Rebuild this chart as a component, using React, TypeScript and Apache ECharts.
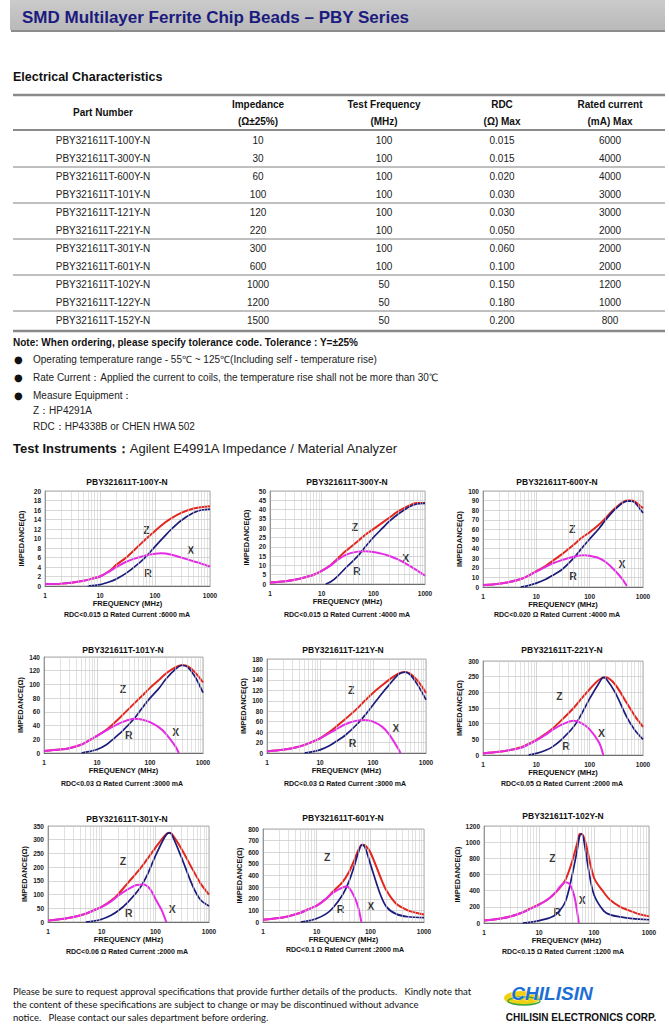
import React, { useEffect, useRef } from 'react';
import * as echarts from 'echarts';

const FONT = '"Liberation Sans", Arial, sans-serif';

// ---------- Table data ----------
const PART_NUMBERS = ['PBY321611T-100Y-N', 'PBY321611T-300Y-N', 'PBY321611T-600Y-N', 'PBY321611T-101Y-N', 'PBY321611T-121Y-N', 'PBY321611T-221Y-N', 'PBY321611T-301Y-N', 'PBY321611T-601Y-N', 'PBY321611T-102Y-N', 'PBY321611T-122Y-N', 'PBY321611T-152Y-N'];
const IMPEDANCE = ['10', '30', '60', '100', '120', '220', '300', '600', '1000', '1200', '1500'];
const TEST_FREQ = ['100', '100', '100', '100', '100', '100', '100', '100', '50', '50', '50'];
const RDC = ['0.015', '0.015', '0.020', '0.030', '0.030', '0.050', '0.060', '0.100', '0.150', '0.180', '0.200'];
const RATED_CURRENT = ['6000', '4000', '4000', '3000', '3000', '2000', '2000', '2000', '1200', '1000', '800'];

// ---------- Chart data ----------
const CHART_TITLES = ['PBY321611T-100Y-N', 'PBY321611T-300Y-N', 'PBY321611T-600Y-N', 'PBY321611T-101Y-N', 'PBY321611T-121Y-N', 'PBY321611T-221Y-N', 'PBY321611T-301Y-N', 'PBY321611T-601Y-N', 'PBY321611T-102Y-N'];
const CHART_NOTES = ['RDC<0.015 Ω Rated Current :6000 mA', 'RDC<0.015 Ω Rated Current :4000 mA', 'RDC<0.020 Ω Rated Current :4000 mA', 'RDC<0.03 Ω Rated Current :3000 mA', 'RDC<0.03 Ω Rated Current :3000 mA', 'RDC<0.05 Ω Rated Current :2000 mA', 'RDC<0.06 Ω Rated Current :2000 mA', 'RDC<0.1 Ω Rated Current :2000 mA', 'RDC<0.15 Ω Rated Current :1200 mA'];
const Y_MAX = [20, 50, 100, 140, 180, 300, 350, 800, 1200];
const Y_INTERVAL = [2, 5, 10, 20, 20, 50, 50, 100, 200];
const FREQ_GRID = [2, 3, 4, 5, 6, 7, 8, 9, 20, 30, 40, 50, 60, 70, 80, 90, 200, 300, 400, 500, 600, 700, 800, 900];

const Z_100Y = [[1, 0.4], [2, 0.5], [3, 0.7], [5, 1.1], [7, 1.5], [10, 2.0], [15, 3.2], [20, 4.5], [30, 6.0], [50, 8.4], [70, 10.0], [100, 11.6], [150, 13.3], [200, 14.3], [300, 15.4], [500, 16.3], [700, 16.6], [1000, 16.8]];
const R_100Y = [[6, 0], [10, 0.3], [15, 0.9], [20, 1.5], [30, 2.7], [50, 4.7], [70, 6.3], [100, 8.3], [150, 10.5], [200, 12.0], [300, 13.8], [500, 15.4], [700, 16.0], [1000, 16.2]];
const X_100Y = [[1, 0.4], [2, 0.5], [3, 0.7], [5, 1.1], [7, 1.5], [10, 2.0], [15, 3.1], [20, 4.0], [30, 5.1], [50, 6.0], [70, 6.5], [100, 6.8], [130, 6.9], [200, 6.6], [300, 6.0], [500, 5.2], [700, 4.7], [1000, 4.1]];

const Z_300Y = [[1, 0.8], [2, 1.5], [3, 2.3], [5, 3.8], [7, 5], [10, 7], [15, 10.2], [20, 13.5], [30, 18], [50, 23], [70, 26.5], [100, 29.5], [150, 33], [200, 35.5], [300, 39], [500, 42.3], [700, 43.5], [1000, 43.5]];
const R_300Y = [[12, 0], [15, 1.2], [20, 4], [30, 9], [50, 15], [70, 20], [100, 25], [150, 30], [200, 33.5], [300, 37.5], [500, 41.5], [700, 43], [1000, 43.3]];
const X_300Y = [[1, 0.8], [2, 1.5], [3, 2.3], [5, 3.8], [7, 5], [10, 7], [15, 10], [20, 12.8], [30, 15.8], [50, 17.4], [70, 17.6], [100, 17.2], [150, 16.2], [200, 15.2], [300, 13.2], [500, 9.8], [700, 7.3], [1000, 4.5]];

const Z_600Y = [[1, 2], [2, 3.5], [3, 5], [5, 8], [7, 11.5], [10, 16.5], [15, 22], [20, 27], [30, 34], [50, 44], [70, 51], [100, 57], [150, 65], [200, 72], [300, 82], [500, 90], [600, 90], [700, 89], [1000, 82]];
const R_600Y = [[5, 0], [7, 1.5], [10, 4], [15, 8], [20, 12], [30, 18], [50, 30], [70, 40], [100, 50], [150, 61], [200, 70], [300, 81], [500, 89.5], [600, 89.5], [700, 88], [1000, 77]];
const X_600Y = [[1, 2], [2, 3.5], [3, 5], [5, 8], [7, 11.5], [10, 16], [15, 21], [20, 24.5], [30, 28], [50, 31.5], [80, 33], [100, 32.5], [150, 30], [200, 26], [300, 17], [400, 9], [500, 1]];

const Z_101Y = [[1, 3], [2, 5], [3, 7], [5, 12], [7, 18], [10, 25], [15, 34], [20, 42], [30, 55], [50, 72], [70, 83], [100, 95], [150, 107], [200, 116], [300, 125], [400, 128], [500, 127], [700, 118], [1000, 103]];
const R_101Y = [[5, 0], [7, 2], [10, 5], [15, 12], [20, 20], [30, 32], [50, 50], [70, 65], [100, 80], [150, 95], [200, 108], [300, 122], [400, 128], [500, 126], [700, 112], [1000, 88]];
const X_101Y = [[1, 3], [2, 5], [3, 7], [5, 12], [7, 18], [10, 25], [15, 33], [20, 38.5], [30, 45], [50, 50], [70, 49], [100, 45], [150, 37], [200, 28], [300, 10], [350, 0]];

const Z_121Y = [[1, 3], [2, 6], [3, 9], [5, 15], [7, 21], [10, 28], [15, 40], [20, 50], [30, 65], [50, 85], [70, 100], [100, 115], [150, 130], [200, 140], [300, 152], [400, 155], [500, 152], [700, 138], [1000, 115]];
const R_121Y = [[5, 0], [7, 2], [10, 6], [15, 14], [20, 22], [30, 34], [50, 55], [70, 72], [100, 92], [150, 115], [200, 130], [300, 150], [400, 155], [500, 150], [700, 130], [1000, 102]];
const X_121Y = [[1, 3], [2, 6], [3, 9], [5, 15], [7, 21], [10, 28], [15, 38], [20, 45], [30, 55], [50, 62], [70, 63], [100, 60], [150, 50], [200, 36], [300, 8], [330, 0]];

const Z_221Y = [[1, 5], [2, 10], [3, 15], [5, 24], [7, 35], [10, 48], [15, 68], [20, 84], [30, 112], [50, 150], [70, 180], [100, 210], [150, 240], [200, 248], [300, 225], [500, 165], [700, 125], [1000, 90]];
const R_221Y = [[7, 0], [10, 5], [15, 15], [20, 26], [30, 50], [50, 90], [70, 130], [100, 180], [150, 230], [180, 248], [200, 245], [300, 200], [500, 120], [700, 80], [1000, 50]];
const X_221Y = [[1, 5], [2, 10], [3, 15], [5, 22], [7, 33], [10, 47], [15, 65], [20, 80], [30, 97], [50, 109], [70, 102], [100, 82], [150, 40], [180, 0]];

const Z_301Y = [[1, 5], [2, 12], [3, 18], [5, 30], [7, 42], [10, 55], [15, 78], [20, 100], [30, 140], [50, 190], [70, 228], [100, 270], [150, 315], [180, 325], [200, 322], [300, 270], [500, 190], [700, 140], [1000, 100]];
const R_301Y = [[5, 0], [7, 3], [10, 10], [15, 25], [20, 40], [30, 70], [50, 120], [70, 170], [100, 240], [150, 310], [180, 325], [200, 320], [300, 240], [500, 130], [700, 80], [1000, 58]];
const X_301Y = [[1, 5], [2, 12], [3, 18], [5, 30], [7, 42], [10, 55], [15, 75], [20, 95], [30, 118], [45, 135], [60, 137], [80, 120], [100, 85], [130, 45], [160, 0]];

const Z_601Y = [[1, 20], [2, 35], [3, 50], [5, 80], [7, 110], [10, 140], [15, 200], [20, 260], [30, 340], [40, 430], [50, 530], [60, 620], [70, 665], [80, 660], [100, 600], [150, 400], [200, 270], [300, 160], [500, 100], [700, 80], [1000, 65]];
const R_601Y = [[5, 0], [7, 10], [10, 30], [15, 70], [20, 120], [30, 230], [40, 350], [50, 480], [60, 600], [70, 665], [80, 640], [100, 500], [150, 250], [200, 130], [300, 70], [500, 45], [1000, 38]];
const X_601Y = [[1, 20], [2, 35], [3, 50], [5, 80], [7, 110], [10, 140], [15, 200], [20, 250], [30, 295], [36, 305], [40, 295], [50, 220], [60, 120], [68, 0]];

const Z_102Y = [[1, 30], [2, 55], [3, 80], [5, 130], [7, 180], [10, 230], [15, 300], [20, 375], [30, 530], [40, 760], [50, 1000], [55, 1100], [60, 1100], [70, 1000], [100, 560], [150, 380], [200, 280], [300, 200], [500, 140], [700, 105], [1000, 82]];
const R_102Y = [[5, 0], [7, 10], [10, 30], [15, 60], [20, 100], [30, 260], [40, 590], [50, 920], [55, 1080], [60, 1100], [70, 900], [80, 650], [100, 350], [150, 150], [200, 100], [300, 75], [500, 55], [1000, 40]];
const X_102Y = [[1, 30], [2, 55], [3, 80], [5, 130], [7, 175], [10, 225], [15, 300], [20, 380], [25, 460], [30, 505], [35, 490], [40, 420], [45, 300], [53, 0]];

const Z_SERIES = [Z_100Y, Z_300Y, Z_600Y, Z_101Y, Z_121Y, Z_221Y, Z_301Y, Z_601Y, Z_102Y];
const R_SERIES = [R_100Y, R_300Y, R_600Y, R_101Y, R_121Y, R_221Y, R_301Y, R_601Y, R_102Y];
const X_SERIES = [X_100Y, X_300Y, X_600Y, X_101Y, X_121Y, X_221Y, X_301Y, X_601Y, X_102Y];

// curve letter positions in data coordinates [freq, value]
const Z_LABEL_AT = [[70, 11.7], [44, 30.4], [47, 60.8], [31, 93.6], [39, 121], [27, 188], [25, 221], [15.7, 562], [17.5, 807]];
const R_LABEL_AT = [[75, 2.7], [48, 6.8], [49, 11], [40, 26], [41, 20], [36, 29], [32, 34], [28, 109], [21.5, 135]];
const X_LABEL_AT = [[445, 7.6], [423, 13.9], [405, 23.6], [305, 31], [271, 48], [166, 71], [207, 46], [102, 134], [61, 287]];

// ---------- Layout ----------
const GRID_BOX = [
  [45, 491, 165, 95], [270, 491, 155, 93], [483, 491, 160, 96],
  [44, 657, 159, 96], [267, 659, 159, 94], [483, 661, 160, 94],
  [48, 826, 161, 96], [263, 829, 161, 93], [484, 826, 165, 97],
];
const TITLE_POS = [[127, 482], [347, 482], [557, 482], [123, 650], [343, 650], [562, 650], [127, 819], [343, 818], [563, 816]];
const NOTE_POS = [[127, 614], [347, 614], [557, 614], [122, 783], [345, 783], [562, 783], [127, 951], [345, 949], [563, 951]];

const RED = '#e3261e';
const NAVY = '#1c1c7c';
const MAGENTA = '#e62ae6';

function txt(text: string, x: number, y: number, o: any = {}) {
  return {
    type: 'text', x, y, silent: true,
    style: {
      text, fontFamily: o.family || FONT, fontSize: o.size || 10, fontWeight: o.weight || 'normal',
      fill: o.color || '#222', textAlign: o.align || 'left', textVerticalAlign: 'middle',
      fontStyle: o.style || 'normal', stroke: o.stroke, lineWidth: o.lineWidth,
    },
  };
}
function hline(x1: number, x2: number, y: number, w: number, color: string) {
  return { type: 'line', silent: true, shape: { x1, y1: y, x2, y2: y }, style: { stroke: color, lineWidth: w } };
}

function buildOption() {
  const graphic: any[] = [];
  // header bar
  graphic.push({ type: 'rect', shape: { x: 10, y: 0, width: 655, height: 30 }, style: { fill: new echarts.graphic.LinearGradient(0, 0, 0, 1, [{ offset: 0, color: '#cbcbcb' }, { offset: 1, color: '#b9b9b9' }]) }, silent: true });
  graphic.push(hline(11, 665, 31, 2, '#8c8c8c'));
  graphic.push(txt('SMD Multilayer Ferrite Chip Beads – PBY Series', 22, 17, { size: 17, weight: 'bold', color: '#1b1b7e' }));

  graphic.push(txt('Electrical Characteristics', 13, 77, { size: 12.5, weight: 'bold', color: '#111' }));

  // table
  const COLS = [103, 258, 384, 502, 610];
  graphic.push(hline(13, 665, 95, 2.5, '#8a8a8a'));
  graphic.push(hline(13, 665, 130, 2.2, '#8a8a8a'));
  [167, 203, 239, 275, 311].forEach((y) => graphic.push(hline(13, 665, y, 1, '#808080')));
  graphic.push(hline(13, 665, 331, 2.5, '#8a8a8a'));
  const hdr = { size: 10, weight: 'bold', color: '#111', align: 'center' };
  graphic.push(txt('Part Number', COLS[0], 112, hdr));
  graphic.push(txt('Impedance', COLS[1], 104, hdr));
  graphic.push(txt('(Ω±25%)', COLS[1], 121, hdr));
  graphic.push(txt('Test Frequency', COLS[2], 104, hdr));
  graphic.push(txt('(MHz)', COLS[2], 121, hdr));
  graphic.push(txt('RDC', COLS[3], 104, hdr));
  graphic.push(txt('(Ω) Max', COLS[3], 121, hdr));
  graphic.push(txt('Rated current', COLS[4], 104, hdr));
  graphic.push(txt('(mA) Max', COLS[4], 121, hdr));
  PART_NUMBERS.forEach((p, i) => {
    const y = 140 + i * 18;
    const cell = { size: 10, color: '#222', align: 'center' };
    graphic.push(txt(p, COLS[0], y, cell));
    graphic.push(txt(IMPEDANCE[i], COLS[1], y, cell));
    graphic.push(txt(TEST_FREQ[i], COLS[2], y, cell));
    graphic.push(txt(RDC[i], COLS[3], y, cell));
    graphic.push(txt(RATED_CURRENT[i], COLS[4], y, cell));
  });

  // notes
  graphic.push(txt('Note: When ordering, please specify tolerance code. Tolerance : Y=±25%', 13, 342, { size: 10, weight: 'bold', color: '#111' }));
  const bullets = [
    ['Operating temperature range - 55℃ ~ 125℃(Including self - temperature rise)', 359],
    ['Rate Current：Applied the current to coils, the temperature rise shall not be more than 30℃', 377],
    ['Measure Equipment：', 395],
  ];
  bullets.forEach(([t, y]: any) => {
    graphic.push(txt('●', 14, y, { size: 10, color: '#111', family: '"DejaVu Sans", sans-serif' }));
    graphic.push(txt(t, 33, y, { size: 10 }));
  });
  graphic.push(txt('Z：HP4291A', 33, 410, { size: 10 }));
  graphic.push(txt('RDC：HP4338B or CHEN HWA 502', 33, 426, { size: 10 }));
  graphic.push({
    type: 'text', x: 13, y: 448, silent: true,
    style: {
      text: '{b|Test Instruments：}{n|Agilent E4991A Impedance / Material Analyzer}', textVerticalAlign: 'middle',
      rich: {
        b: { fontFamily: FONT, fontSize: 13, fontWeight: 'bold', fill: '#111' },
        n: { fontFamily: FONT, fontSize: 13, fill: '#222' },
      },
    },
  });

  // chart titles & notes
  CHART_TITLES.forEach((t, i) => {
    graphic.push(txt(t, TITLE_POS[i][0], TITLE_POS[i][1], { size: 8.5, weight: 'bold', color: '#111', align: 'center' }));
    graphic.push(txt(CHART_NOTES[i], NOTE_POS[i][0], NOTE_POS[i][1], { size: 7, weight: 'bold', color: '#111', align: 'center' }));
  });

  // footer
  const foot = { size: 9.5, family: 'Lato, "Open Sans", sans-serif', color: '#111' };
  graphic.push(txt('Please be sure to request approval specifications that provide further details of the products.   Kindly note that', 13, 991, foot));
  graphic.push(txt('the content of these specifications are subject to change or may be discontinued without advance', 13, 1004, foot));
  graphic.push(txt('notice.   Please contact our sales department before ordering.', 13, 1017, foot));

  // logo
  graphic.push({ type: 'ellipse', silent: true, shape: { cx: 522, cy: 998, rx: 18, ry: 7 }, style: { fill: '#f0d010' } });
  graphic.push({ type: 'ellipse', silent: true, shape: { cx: 524, cy: 1001, rx: 16, ry: 4 }, style: { fill: 'none', stroke: '#39a845', lineWidth: 1.5 } });
  graphic.push(txt('CHILISIN', 552, 993, { size: 19, weight: 900, style: 'italic', color: '#1d6fd6', align: 'center', stroke: '#ffffff', lineWidth: 0.6 }));
  graphic.push(txt('CHILISIN ELECTRONICS CORP.', 581, 1017, { size: 10, weight: 'bold', color: '#111', align: 'center' }));

  const grid: any[] = [];
  const xAxis: any[] = [];
  const yAxis: any[] = [];
  const series: any[] = [];
  const axisLabelStyle = { fontFamily: FONT, fontSize: 6.5, fontWeight: 'bold', color: '#222' };

  for (let i = 0; i < 9; i++) {
    const [l, t, w, h] = GRID_BOX[i];
    grid.push({ left: l, top: t, width: w, height: h, show: true, borderColor: '#9a9a9a', borderWidth: 0.8, backgroundColor: 'transparent' });
    xAxis.push({
      type: 'log', logBase: 10, min: 1, max: 1000, gridIndex: i,
      name: 'FREQUENCY (MHz)', nameLocation: 'middle', nameGap: 13,
      nameTextStyle: { fontFamily: FONT, fontSize: 7.5, fontWeight: 'bold', color: '#111' },
      axisLine: { show: true, lineStyle: { color: '#555', width: 0.8 } },
      axisTick: { show: false },
      axisLabel: { ...axisLabelStyle, margin: 6, formatter: (v: number) => String(Math.round(v)) },
      splitLine: { show: true, lineStyle: { color: '#c6c6c6', width: 0.7 } },
    });
    yAxis.push({
      type: 'value', min: 0, max: Y_MAX[i], interval: Y_INTERVAL[i], gridIndex: i,
      name: 'IMPEDANCE(Ω)', nameLocation: 'middle', nameGap: 20, nameRotate: 90,
      nameTextStyle: { fontFamily: FONT, fontSize: 7.5, fontWeight: 'bold', color: '#111' },
      axisLine: { show: true, lineStyle: { color: '#888', width: 0.8 } },
      axisTick: { show: false },
      axisLabel: { ...axisLabelStyle, margin: 4, formatter: (v: number) => String(v) },
      splitLine: { show: true, lineStyle: { color: '#bdbdbd', width: 0.6 } },
    });
    series.push({
      type: 'scatter', xAxisIndex: i, yAxisIndex: i, z: 1, symbolSize: 1,
      itemStyle: { color: 'rgba(0,0,0,0)' },
      data: [[...Z_LABEL_AT[i], 'Z'], [...R_LABEL_AT[i], 'R'], [...X_LABEL_AT[i], 'X']],
      label: { show: true, position: 'inside', formatter: (p: any) => p.data[2], fontFamily: FONT, fontSize: 10.5, fontWeight: 'bold', color: '#000' },
      markLine: {
        silent: true, symbol: ['none', 'none'], label: { show: false },
        lineStyle: { color: '#cdcdcd', width: 0.6, type: 'solid' },
        data: FREQ_GRID.map((v) => ({ xAxis: v })),
      },
    });
    const mk = (data: number[][], color: string, width: number) => ({
      type: 'line', xAxisIndex: i, yAxisIndex: i, z: 3, data, smooth: 0.3, showSymbol: false,
      lineStyle: { color, width }, itemStyle: { color },
    });
    series.push(mk(Z_SERIES[i], RED, 2));
    series.push(mk(R_SERIES[i], NAVY, 1.7));
    series.push(mk(X_SERIES[i], MAGENTA, 2));
  }

  return {
    animation: false,
    backgroundColor: '#ffffff',
    textStyle: { fontFamily: FONT },
    grid, xAxis, yAxis, series, graphic,
  };
}

export default function App() {
  const ref = useRef<HTMLDivElement>(null);
  useEffect(() => {
    const chart = echarts.init(ref.current!, null, { renderer: 'svg' });
    chart.setOption(buildOption() as any);
    return () => chart.dispose();
  }, []);
  return <div ref={ref} style={{ position: 'fixed', left: 0, top: 0, width: 669, height: 1024, background: '#fff' }} />;
}
